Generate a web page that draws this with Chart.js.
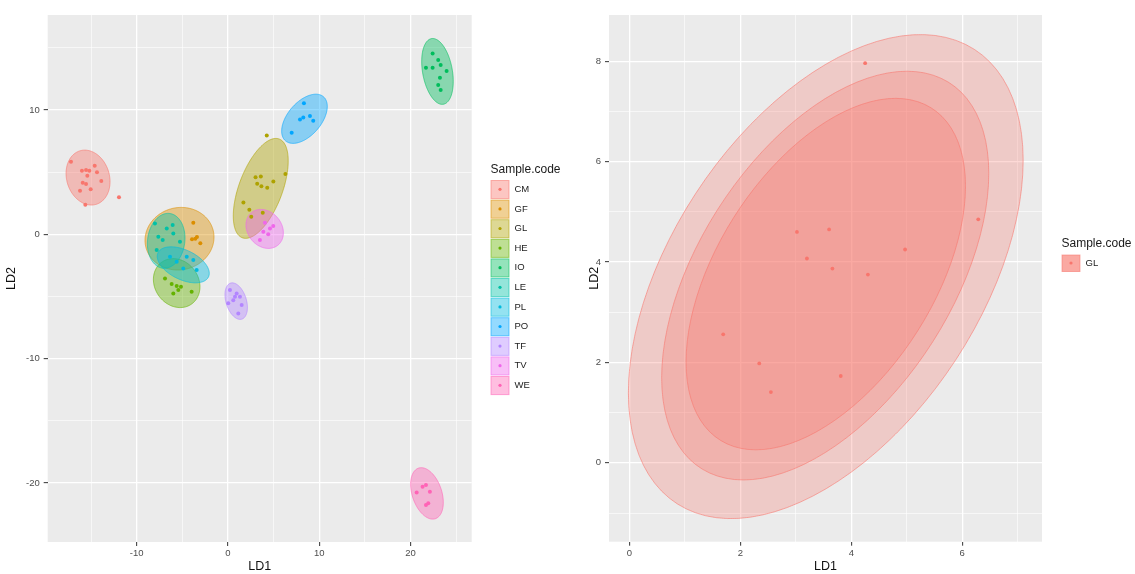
<!DOCTYPE html>
<html>
<head>
<meta charset="utf-8">
<script src="https://cdn.jsdelivr.net/npm/chart.js@4.4.1/dist/chart.umd.min.js"></script>
<style>
  html, body { margin: 0; padding: 0; background: #fff; }
  #wrap { position: relative; width: 1135px; height: 574px; }
  #leftChart { position: absolute; left: 0; top: 0; }
  #rightChart { position: absolute; left: 580px; top: 0; }
</style>
</head>
<body>
<div id="wrap">
  <canvas id="leftChart" width="580" height="574"></canvas>
  <canvas id="rightChart" width="555" height="574"></canvas>
</div>
<script>
// --- groups and colours (ggplot hue palette) ---
const sampleCodes = ['CM', 'GF', 'GL', 'HE', 'IO', 'LE', 'PL', 'PO', 'TF', 'TV', 'WE'];
const sampleColors = ['#F8766D', '#DB8E00', '#AEA200', '#64B200', '#00BD5C', '#00C1A7',
                      '#00BADE', '#00A6FF', '#B385FF', '#EF67EB', '#FF63B6'];

// --- LD scores ---
const cmLD1 = [-17.2, -16.0, -15.55, -15.19, -14.6, -14.35, -15.41, -15.91, -15.55, -13.88, -15.04, -16.21, -15.63, -11.94];
const cmLD2 = [5.84, 5.12, 5.17, 5.12, 5.52, 4.99, 4.71, 4.15, 4.05, 4.29, 3.64, 3.51, 2.38, 2.98];
const gfLD1 = [-3.80, -3.94, -3.58, -3.03, -3.40];
const gfLD2 = [0.93, -0.40, -0.35, -0.72, -0.22];
const glLD1 = [4.25, 3.02, 3.60, 3.20, 3.66, 4.30, 4.97, 6.29, 1.69, 2.34, 2.55, 3.81];
const glLD2 = [7.96, 4.60, 4.65, 4.07, 3.87, 3.75, 4.25, 4.85, 2.56, 1.98, 1.41, 1.73];
const heLD1 = [-6.90, -6.17, -5.62, -5.15, -3.98, -5.99, -5.44];
const heLD2 = [-3.54, -4.00, -4.16, -4.22, -4.62, -4.75, -4.48];
const ioLD1 = [22.42, 23.03, 23.30, 21.69, 22.42, 23.95, 23.22, 23.03, 23.30];
const ioLD2 = [14.56, 14.02, 13.62, 13.40, 13.40, 13.14, 12.60, 12.01, 11.61];
const leLD1 = [-8.0, -6.71, -6.06, -5.99, -7.15, -7.81, -5.26, -7.63];
const leLD2 = [0.88, 0.48, 0.75, 0.08, -0.46, -1.26, -0.60, -0.19];
const plLD1 = [-6.35, -5.62, -4.52, -3.80, -4.90, -3.43];
const plLD2 = [-1.80, -2.20, -1.80, -2.07, -2.74, -2.87];
const poLD1 = [8.32, 7.89, 8.25, 8.98, 9.34, 6.98];
const poLD2 = [10.54, 9.25, 9.41, 9.52, 9.14, 8.17];
const tfLD1 = [0.22, 0.95, 1.31, 0.58, 0.03, 1.50, 1.13, 0.77];
const tfLD2 = [-4.48, -4.75, -5.02, -5.29, -5.55, -5.69, -6.36, -5.02];
const tvLD1 = [4.96, 4.41, 3.87, 3.50, 4.60, 4.05];
const tvLD2 = [0.67, 0.02, 0.21, -0.46, 0.48, 0.93];
const weLD1 = [20.67, 21.32, 21.69, 22.12, 21.69, 21.94];
const weLD2 = [-20.76, -20.31, -20.17, -20.71, -21.78, -21.64];

const groupLD1 = [cmLD1, gfLD1, glLD1, heLD1, ioLD1, leLD1, plLD1, poLD1, tfLD1, tvLD1, weLD1];
const groupLD2 = [cmLD2, gfLD2, glLD2, heLD2, ioLD2, leLD2, plLD2, poLD2, tfLD2, tvLD2, weLD2];

// --- ellipses (centre, half extent on each axis, correlation), one per group ---
const ellLD1 = [-15.33, -5.31, 3.59, -5.62, 22.95, -6.77, -4.90, 8.38, 0.90, 4.02, 21.80];
const ellLD2 = [4.57, -0.35, 3.70, -3.92, 13.11, -0.52, -2.45, 9.30, -5.37, 0.44, -20.84];
const ellHalfLD1 = [2.41, 3.78, 3.01, 2.55, 1.73, 2.06, 2.85, 2.50, 1.23, 2.05, 1.79];
const ellHalfLD2 = [2.21, 2.52, 4.02, 1.97, 2.65, 2.21, 1.45, 1.98, 1.47, 1.57, 2.07];
const ellRho = [-0.15, 0.05, 0.55, -0.15, -0.3, 0.1, -0.47, 0.5, -0.35, -0.2, -0.35];

// --- right panel: GL only, three nested ellipses (outer -> inner) ---
const glEllLD1 = [3.54, 3.53, 3.54];
const glEllLD2 = [3.71, 3.73, 3.76];
const glEllHalfLD1 = [3.56, 2.95, 2.52];
const glEllHalfLD2 = [4.82, 4.07, 3.50];
const glEllRho = [0.48, 0.5, 0.5];

// --- axis ranges ---
const leftLD1Range = [-19.75, 26.7];
const leftLD2Range = [-24.75, 17.65];
const rightLD1Range = [-0.37, 7.44];
const rightLD2Range = [-1.57, 8.92];

const FONT = '"Liberation Sans", Arial, sans-serif';
Chart.defaults.font.family = FONT;

const rgba = (hex, a) => {
    const n = parseInt(hex.slice(1), 16);
    return `rgba(${(n >> 16) & 255}, ${(n >> 8) & 255}, ${n & 255}, ${a})`;
};

// ellipse outline in data units, closed
const ellipsePoints = (cx, cy, sx, sy, rho) => {
    const pts = [];
    const k = Math.sqrt(1 - rho * rho);
    for (let i = 0; i <= 96; i++) {
        const t = i / 96 * 2 * Math.PI;
        pts.push({ x: cx + sx * Math.cos(t), y: cy + sy * (rho * Math.cos(t) + k * Math.sin(t)) });
    }
    return pts;
};

const zip = (xs, ys) => xs.map((x, i) => ({ x, y: ys[i] }));

// grey panel like theme_gray
const panelBackground = {
    id: 'panelBackground',
    beforeDraw(chart) {
        const { ctx, chartArea: a } = chart;
        ctx.save();
        ctx.fillStyle = '#EBEBEB';
        ctx.fillRect(a.left, a.top, a.right - a.left, a.bottom - a.top);
        ctx.restore();
    }
};

// fills the closed outline of datasets flagged with polygonFill, using the
// pixel positions the scatter controller already computed for its points
const polygonFill = {
    id: 'polygonFill',
    beforeDatasetDraw(chart, args) {
        const ds = chart.data.datasets[args.index];
        if (!ds.polygonFill) return;
        const pts = args.meta.data;
        const { ctx, chartArea: a } = chart;
        ctx.save();
        ctx.beginPath();
        ctx.rect(a.left, a.top, a.right - a.left, a.bottom - a.top);
        ctx.clip();
        ctx.beginPath();
        pts.forEach((p, i) => (i ? ctx.lineTo(p.x, p.y) : ctx.moveTo(p.x, p.y)));
        ctx.closePath();
        ctx.fillStyle = ds.polygonFill;
        ctx.fill();
        ctx.restore();
    }
};

// ggplot style legend: title, then stacked keys with a dot inside
const ggLegend = {
    id: 'ggLegend',
    afterDraw(chart, args, opts) {
        const { ctx } = chart;
        ctx.save();
        ctx.fillStyle = '#1a1a1a';
        ctx.font = `12px ${FONT}`;
        ctx.textBaseline = 'middle';
        ctx.textAlign = 'left';
        ctx.fillText(opts.title, opts.x, opts.titleY);
        opts.items.forEach((item, i) => {
            const y = opts.keyTop + i * opts.keyStep;
            for (let l = 0; l < opts.layers; l++) {
                ctx.fillStyle = rgba(item.color, opts.alpha);
                ctx.fillRect(opts.x + 0.5, y + 0.5, 18, opts.keyStep - 1.5);
            }
            ctx.strokeStyle = rgba(item.color, 0.55);
            ctx.lineWidth = 1;
            ctx.strokeRect(opts.x + 0.5, y + 0.5, 18, opts.keyStep - 1.5);
            ctx.fillStyle = item.color;
            ctx.beginPath();
            ctx.arc(opts.x + 9.5, y + (opts.keyStep - 1) / 2, 1.6, 0, 2 * Math.PI);
            ctx.fill();
            ctx.fillStyle = '#222';
            ctx.font = `9.5px ${FONT}`;
            ctx.fillText(item.label, opts.x + 24, y + (opts.keyStep - 1) / 2);
        });
        ctx.restore();
    }
};

const ggAxis = (range, step, labelEvery, titleText, isX, titlePad, fixedSize) => {
    const major = v => Math.abs(v / labelEvery - Math.round(v / labelEvery)) < 1e-6;
    return {
        type: 'linear',
        min: range[0],
        max: range[1],
        border: { display: false },
        grid: {
            color: '#FFFFFF',
            lineWidth: c => (c.tick && major(c.tick.value)) ? 1.3 : 0.6,
            tickColor: c => (c.tick && major(c.tick.value)) ? '#333333' : 'rgba(0,0,0,0)',
            tickLength: 4,
            tickWidth: 1
        },
        ticks: {
            stepSize: step,
            includeBounds: false,
            autoSkip: false,
            maxRotation: 0,
            padding: isX ? 2 : 4,
            color: '#4D4D4D',
            font: { size: 9.5, family: FONT },
            callback: v => major(v) ? String(Math.round(v)) : ''
        },
        title: {
            display: true,
            text: titleText,
            color: '#111',
            font: { size: 12.5, family: FONT },
            padding: isX ? { top: 0, bottom: 0 } : { top: titlePad, bottom: 0 }
        },
        afterFit(scale) {
            if (isX) scale.height = fixedSize; else scale.width = fixedSize;
        }
    };
};

// a small tension keeps Chart.js off its x-monotonic fast path, which would
// flatten the left and right ends of a closed outline
const ellipseDataset = (label, pts, color, alpha, order) => ({
    label,
    data: pts,
    showLine: true,
    fill: false,
    tension: 0.05,
    polygonFill: rgba(color, alpha),
    borderColor: rgba(color, 0.75),
    borderWidth: 0.8,
    pointRadius: 0,
    pointHitRadius: 0,
    order
});

const buildLeftChart = () => {
    const datasets = [];
    sampleCodes.forEach((code, i) => {
        datasets.push({
            label: code,
            data: zip(groupLD1[i], groupLD2[i]),
            backgroundColor: sampleColors[i],
            borderWidth: 0,
            pointRadius: 2,
            order: 0
        });
    });
    sampleCodes.forEach((code, i) => {
        const pts = ellipsePoints(ellLD1[i], ellLD2[i], ellHalfLD1[i], ellHalfLD2[i], ellRho[i]);
        datasets.push(ellipseDataset(code + ' ellipse', pts, sampleColors[i], 0.42, 100 - i));
    });

    new Chart(document.getElementById('leftChart'), {
        type: 'scatter',
        data: { datasets },
        options: {
            responsive: false,
            animation: false,
            events: [],
            layout: { padding: { left: 0, top: 15, right: 108.3, bottom: 0 } },
            scales: {
                x: ggAxis(leftLD1Range, 5, 10, 'LD1', true, 0, 32),
                y: ggAxis(leftLD2Range, 5, 10, 'LD2', false, 4.5, 47.7)
            },
            plugins: {
                legend: { display: false },
                tooltip: { enabled: false },
                ggLegend: {
                    title: 'Sample.code',
                    x: 490.5,
                    titleY: 170,
                    keyTop: 180,
                    keyStep: 19.6,
                    layers: 1,
                    alpha: 0.42,
                    items: sampleCodes.map((c, i) => ({ label: c, color: sampleColors[i] }))
                }
            }
        },
        plugins: [panelBackground, polygonFill, ggLegend]
    });
};

const buildRightChart = () => {
    // a single group takes the first hue
    const glColor = sampleColors[0];
    const datasets = [{
        label: 'GL',
        data: zip(glLD1, glLD2),
        backgroundColor: glColor,
        borderWidth: 0,
        pointRadius: 1.9,
        order: 0
    }];
    glEllLD1.forEach((cx, i) => {
        const pts = ellipsePoints(cx, glEllLD2[i], glEllHalfLD1[i], glEllHalfLD2[i], glEllRho[i]);
        datasets.push(ellipseDataset('GL ellipse ' + (i + 1), pts, glColor, 0.28, 10 - i));
    });

    new Chart(document.getElementById('rightChart'), {
        type: 'scatter',
        data: { datasets },
        options: {
            responsive: false,
            animation: false,
            events: [],
            layout: { padding: { left: 0, top: 15, right: 93, bottom: 0 } },
            scales: {
                x: ggAxis(rightLD1Range, 1, 2, 'LD1', true, 0, 32.3),
                y: ggAxis(rightLD2Range, 1, 2, 'LD2', false, 7.5, 29)
            },
            plugins: {
                legend: { display: false },
                tooltip: { enabled: false },
                ggLegend: {
                    title: 'Sample.code',
                    x: 481.5,
                    titleY: 244,
                    keyTop: 254.5,
                    keyStep: 18,
                    layers: 3,
                    alpha: 0.28,
                    items: [{ label: 'GL', color: glColor }]
                }
            }
        },
        plugins: [panelBackground, polygonFill, ggLegend]
    });
};

buildLeftChart();
buildRightChart();
</script>
</body>
</html>
